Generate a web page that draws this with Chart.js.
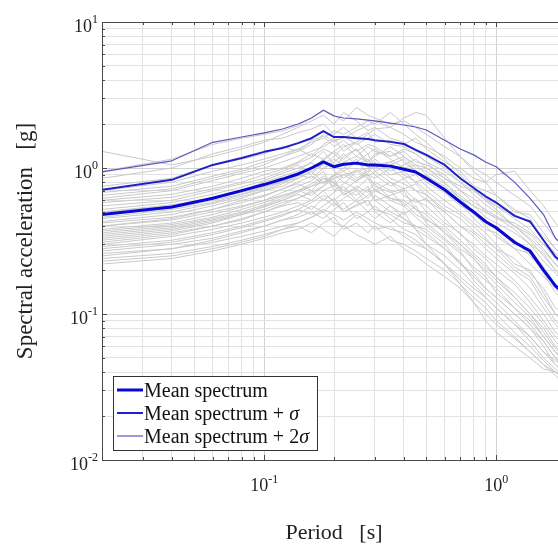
<!DOCTYPE html>
<html><head><meta charset="utf-8">
<script src="https://cdn.jsdelivr.net/npm/chart.js@4"></script>
<style>
html,body{margin:0;padding:0;background:#fff;overflow:hidden;}
#wrap{width:558px;height:547px;overflow:hidden;position:relative;}
canvas{display:block;}
</style></head>
<body><div id="wrap"><canvas id="c" width="600" height="547"></canvas></div>
<script>
// ---------- DATA ----------
const periods = [0.02,0.04,0.06,0.08,0.1,0.12,0.14,0.16,0.18,0.2,0.22,0.25,0.28,0.3,0.35,0.4,0.45,0.5,0.6,0.7,0.8,0.9,1.0,1.2,1.4,1.6,1.8,2.0];

const meanSpectrum   = [0.48,0.54,0.62,0.70,0.77,0.84,0.91,1.00,1.10,1.02,1.06,1.08,1.05,1.05,1.03,0.98,0.94,0.85,0.71,0.585,0.50,0.43,0.39,0.31,0.27,0.20,0.156,0.135];
const meanPlusSigma  = [0.71,0.83,1.05,1.17,1.29,1.37,1.48,1.60,1.79,1.63,1.63,1.60,1.58,1.55,1.51,1.46,1.33,1.23,1.05,0.85,0.73,0.64,0.58,0.47,0.43,0.32,0.246,0.217];
const meanPlus2Sigma = [0.94,1.12,1.50,1.63,1.74,1.85,2.00,2.20,2.49,2.27,2.20,2.17,2.13,2.10,2.03,1.97,1.91,1.82,1.55,1.35,1.23,1.10,1.02,0.80,0.62,0.48,0.33,0.283];

const recA = [1.30,1.05,1.20,1.35,1.50,1.70,1.90,2.10,2.30,2.00,2.40,2.10,1.80,1.90,1.60,1.50,1.30,1.20,1.00,0.80,0.70,0.62,0.55,0.45,0.38,0.30,0.24,0.20];
const recB = [0.95,1.15,1.45,1.60,1.70,1.80,1.95,2.20,2.50,2.30,2.10,2.60,2.30,2.20,2.00,2.10,1.90,1.70,1.40,1.20,1.00,0.90,0.80,0.65,0.55,0.42,0.33,0.28];
const recC = [0.85,1.00,1.25,1.40,1.55,1.60,1.75,1.85,2.00,1.70,1.90,1.60,1.75,1.50,1.55,1.45,1.60,1.35,1.10,0.95,0.75,0.70,0.65,0.50,0.48,0.36,0.28,0.25];
const recD = [0.75,0.85,1.05,1.15,1.25,1.40,1.30,1.55,1.65,1.40,1.55,1.30,1.45,1.40,1.20,1.30,1.10,1.05,0.90,0.70,0.62,0.50,0.46,0.38,0.30,0.26,0.20,0.17];
const recE = [0.65,0.72,0.85,0.95,1.05,1.20,1.35,1.20,1.45,1.60,1.30,1.50,1.25,1.35,1.15,1.00,1.05,0.90,0.72,0.60,0.48,0.42,0.40,0.30,0.28,0.21,0.16,0.14];
const recF = [0.60,0.66,0.75,0.85,0.95,1.00,1.10,1.25,1.15,1.30,1.45,1.20,1.10,1.25,1.30,1.10,0.95,0.80,0.68,0.55,0.50,0.40,0.34,0.28,0.22,0.18,0.15,0.12];
const recG = [0.55,0.60,0.70,0.78,0.85,0.95,1.05,0.90,1.10,1.00,1.20,1.35,1.05,1.15,0.95,1.05,1.15,1.00,0.80,0.62,0.55,0.46,0.42,0.36,0.30,0.23,0.19,0.16];
const recH = [0.50,0.55,0.62,0.70,0.80,0.88,0.95,1.10,1.30,1.05,0.95,1.10,1.25,1.00,1.10,0.90,0.80,0.85,0.70,0.58,0.45,0.38,0.36,0.28,0.26,0.19,0.14,0.12];
const recI = [0.46,0.52,0.58,0.66,0.72,0.80,0.90,0.85,1.00,1.15,1.05,0.85,0.95,1.10,0.90,0.95,0.80,0.70,0.55,0.48,0.40,0.33,0.28,0.24,0.19,0.15,0.11,0.10];
const recJ = [0.43,0.48,0.55,0.62,0.70,0.75,0.85,0.95,0.80,0.90,1.00,1.15,0.90,0.85,1.00,0.85,0.90,0.75,0.60,0.50,0.42,0.36,0.30,0.22,0.20,0.14,0.10,0.085];
const recK = [0.40,0.45,0.52,0.60,0.65,0.72,0.78,0.70,0.85,0.75,0.90,0.80,1.00,0.90,0.75,0.85,0.70,0.60,0.50,0.40,0.36,0.30,0.26,0.20,0.17,0.12,0.09,0.075];
const recL = [0.38,0.42,0.48,0.54,0.60,0.68,0.75,0.82,0.95,0.70,0.78,0.95,0.85,0.70,0.80,0.65,0.58,0.62,0.45,0.35,0.30,0.25,0.22,0.17,0.13,0.10,0.075,0.065];
const recM = [0.36,0.40,0.45,0.50,0.56,0.62,0.70,0.65,0.75,0.85,0.65,0.75,0.68,0.80,0.70,0.55,0.62,0.50,0.40,0.32,0.26,0.22,0.18,0.14,0.11,0.085,0.065,0.055];
const recN = [0.34,0.38,0.43,0.48,0.52,0.58,0.62,0.70,0.60,0.68,0.75,0.60,0.72,0.60,0.65,0.70,0.52,0.45,0.36,0.28,0.24,0.19,0.16,0.12,0.095,0.07,0.055,0.045];
const recO = [0.32,0.36,0.40,0.44,0.50,0.55,0.58,0.52,0.62,0.55,0.62,0.70,0.55,0.65,0.55,0.48,0.55,0.42,0.33,0.27,0.20,0.17,0.15,0.11,0.085,0.065,0.05,0.04];
const recP = [0.30,0.34,0.38,0.42,0.46,0.50,0.55,0.60,0.70,0.58,0.52,0.60,0.50,0.45,0.55,0.45,0.40,0.38,0.30,0.22,0.19,0.15,0.13,0.10,0.08,0.06,0.045,0.04];
const recQ = [0.29,0.32,0.36,0.40,0.44,0.48,0.52,0.48,0.55,0.62,0.50,0.55,0.60,0.50,0.42,0.50,0.38,0.34,0.28,0.23,0.17,0.14,0.12,0.09,0.07,0.055,0.045,0.038];
const recR = [0.27,0.30,0.33,0.37,0.40,0.44,0.46,0.50,0.45,0.52,0.58,0.45,0.50,0.55,0.45,0.38,0.35,0.30,0.25,0.20,0.16,0.13,0.11,0.085,0.065,0.05,0.042,0.036];
const recS = [0.26,0.28,0.31,0.34,0.37,0.40,0.42,0.46,0.50,0.42,0.40,0.48,0.42,0.38,0.40,0.34,0.30,0.28,0.22,0.17,0.14,0.12,0.10,0.075,0.06,0.048,0.04,0.035];
const recT = [0.24,0.26,0.29,0.32,0.35,0.38,0.40,0.36,0.42,0.46,0.38,0.42,0.36,0.40,0.32,0.30,0.27,0.24,0.20,0.16,0.13,0.11,0.09,0.07,0.055,0.045,0.038,0.033];
const recU = [0.22,0.24,0.27,0.30,0.33,0.36,0.38,0.42,0.38,0.34,0.40,0.35,0.32,0.30,0.34,0.28,0.25,0.22,0.18,0.15,0.12,0.10,0.085,0.068,0.055,0.045,0.04,0.036];
const recV = [0.50,0.56,0.62,0.68,0.75,0.80,0.85,0.95,1.05,1.20,1.40,1.50,1.70,1.85,1.90,1.70,1.50,1.40,1.20,1.00,0.85,0.80,0.90,0.95,0.70,0.55,0.42,0.36];
const recW = [0.40,0.44,0.50,0.55,0.60,0.65,0.70,0.75,0.80,0.85,0.90,0.95,1.00,1.05,1.10,1.20,1.05,1.00,0.85,0.75,0.70,0.60,0.55,0.48,0.42,0.34,0.28,0.24];
const recX = [0.70,0.80,0.95,1.05,1.15,1.25,1.35,1.50,1.60,1.80,1.70,1.90,2.10,2.00,2.40,2.00,1.70,1.50,1.15,0.90,0.72,0.60,0.52,0.40,0.32,0.25,0.20,0.16];
const recY = [0.62,0.70,0.82,0.92,1.00,1.10,1.20,1.30,1.40,1.55,1.60,1.80,1.95,2.10,1.90,2.20,2.40,2.30,1.60,1.20,0.95,0.80,0.65,0.52,0.45,0.32,0.26,0.22];
const recZ = [0.33,0.37,0.42,0.48,0.55,0.60,0.68,0.75,0.85,0.80,0.70,0.65,0.75,0.60,0.50,0.45,0.38,0.30,0.22,0.16,0.12,0.09,0.075,0.06,0.05,0.042,0.04,0.038];
const recAA = [0.58,0.63,0.72,0.80,0.90,0.98,1.08,1.18,1.35,1.25,1.10,1.20,1.40,1.30,1.20,1.35,1.25,1.10,0.85,0.70,0.58,0.52,0.47,0.40,0.33,0.27,0.22,0.18];
const recAB = [0.52,0.58,0.66,0.74,0.82,0.92,1.00,1.08,0.98,1.10,1.25,1.05,1.15,0.95,1.05,1.15,0.95,0.88,0.75,0.62,0.50,0.42,0.38,0.32,0.25,0.20,0.16,0.14];
const recAC = [0.45,0.50,0.57,0.64,0.70,0.78,0.88,0.98,1.15,0.95,0.85,0.98,0.88,0.95,0.80,0.72,0.78,0.65,0.50,0.40,0.34,0.28,0.24,0.19,0.15,0.11,0.085,0.07];
const recAD = [0.42,0.46,0.52,0.58,0.64,0.72,0.80,0.88,0.78,0.88,0.95,0.82,0.92,1.05,0.85,0.78,0.70,0.66,0.52,0.45,0.37,0.32,0.28,0.21,0.18,0.13,0.10,0.09];
const recAE = [0.37,0.41,0.46,0.52,0.58,0.64,0.70,0.78,0.88,0.78,0.70,0.82,0.90,0.75,0.68,0.72,0.60,0.55,0.42,0.36,0.28,0.24,0.20,0.16,0.12,0.09,0.07,0.06];
const recAF = [0.35,0.39,0.44,0.49,0.54,0.60,0.66,0.60,0.70,0.76,0.66,0.72,0.62,0.70,0.62,0.58,0.48,0.44,0.38,0.30,0.25,0.21,0.18,0.13,0.10,0.08,0.06,0.05];
const recAG = [0.31,0.35,0.40,0.45,0.50,0.56,0.62,0.68,0.75,0.90,0.80,0.72,0.85,0.78,0.62,0.60,0.52,0.48,0.36,0.30,0.24,0.20,0.17,0.13,0.10,0.075,0.058,0.05];
const recAH = [0.28,0.31,0.35,0.39,0.43,0.47,0.52,0.58,0.65,0.60,0.68,0.58,0.65,0.72,0.60,0.55,0.46,0.40,0.32,0.26,0.21,0.18,0.14,0.11,0.09,0.07,0.055,0.048];
const recAI = [0.25,0.28,0.32,0.36,0.40,0.44,0.48,0.55,0.50,0.58,0.50,0.56,0.60,0.52,0.48,0.42,0.40,0.36,0.28,0.22,0.18,0.15,0.13,0.10,0.08,0.065,0.05,0.045];
const recAJ = [0.23,0.25,0.28,0.31,0.34,0.38,0.42,0.46,0.52,0.48,0.44,0.50,0.45,0.42,0.38,0.36,0.32,0.28,0.22,0.18,0.15,0.13,0.11,0.085,0.07,0.055,0.048,0.042];
const recAK = [0.68,0.75,0.88,0.98,1.10,1.20,1.30,1.45,1.70,1.50,1.65,1.45,1.60,1.70,1.45,1.40,1.25,1.10,0.95,0.80,0.66,0.56,0.50,0.40,0.35,0.28,0.22,0.19];
const recAL = [0.48,0.53,0.60,0.66,0.74,0.82,0.90,1.00,1.12,1.30,1.15,1.35,1.10,1.20,1.40,1.20,1.00,0.95,0.78,0.65,0.55,0.50,0.45,0.42,0.36,0.30,0.26,0.22];
const records = [recA,recB,recC,recD,recE,recF,recG,recH,recI,recJ,recK,recL,recM,recN,recO,recP,recQ,recR,recS,recT,recU,recV,recW,recX,recY,recZ,
                 recAA,recAB,recAC,recAD,recAE,recAF,recAG,recAH,recAI,recAJ,recAK,recAL];

const xMajorValues = [0.1, 1];
const xMajorExps   = ['-1', '0'];
const yMajorValues = [0.01, 0.1, 1, 10];
const yMajorExps   = ['-2', '-1', '0', '1'];
const legendLabels = ['Mean spectrum', 'Mean spectrum + ', 'Mean spectrum + 2'];
const legendSuffix = ['', 'σ', 'σ'];

// grid tick positions (1..9 x 10^n)
function gridValues(min, max){
  const out = [];
  for (let e = Math.floor(Math.log10(min)); e <= Math.ceil(Math.log10(max)); e++){
    for (let m = 1; m <= 9; m++){
      const v = parseFloat((m*Math.pow(10,e)).toPrecision(6));
      if (v >= min - 1e-12 && v <= max + 1e-12) out.push(v);
    }
  }
  return out;
}
const X_MIN = 0.02, X_MAX = 2, Y_MIN = 0.01, Y_MAX = 10;
const xGrid = gridValues(X_MIN, X_MAX);
const yGrid = gridValues(Y_MIN, Y_MAX);

// ---------- STYLE ----------
const SERIF = "'Liberation Serif','Times New Roman',serif";
const COL_MEAN = '#0808d4', COL_S1 = '#2020c8', COL_S2 = '#5858c4', COL_REC = '#c9c9c9';
const isMajor = v => Math.abs(Math.log10(v) - Math.round(Math.log10(v))) < 1e-9;

const toXY = arr => periods.map((p,i)=>({x:p, y:arr[i]}));
const datasets = [
  {label:legendLabels[0], data:toXY(meanSpectrum),   borderColor:COL_MEAN, borderWidth:3,   order:0},
  {label:legendLabels[1], data:toXY(meanPlusSigma),  borderColor:COL_S1,   borderWidth:2,   order:1},
  {label:legendLabels[2], data:toXY(meanPlus2Sigma), borderColor:COL_S2,   borderWidth:1.2, order:2},
];
records.forEach((r,k)=>datasets.push({label:'record '+(k+1), data:toXY(r), borderColor:COL_REC, borderWidth:1, order:10+k}));
datasets.forEach(d=>{d.pointRadius=0; d.fill=false; d.tension=0; d.borderJoinStyle='round';});

const gridColor = c => (c.tick && isMajor(c.tick.value)) ? '#d2d2d2' : '#e2e2e2';

const decorPlugin = {
  id:'decor',
  afterDraw(chart){
    const {ctx, chartArea:a, scales:{x, y}} = chart;
    ctx.save();
    // frame (left, top, bottom)
    ctx.strokeStyle = '#4a4a4a'; ctx.lineWidth = 1;
    ctx.beginPath();
    ctx.moveTo(a.right+5, a.top+0.5); ctx.lineTo(a.left+0.5, a.top+0.5);
    ctx.lineTo(a.left+0.5, a.bottom+0.5); ctx.lineTo(a.right+5, a.bottom+0.5);
    ctx.stroke();
    // inner ticks
    ctx.beginPath();
    xGrid.forEach(v=>{
      const px = Math.round(x.getPixelForValue(v))+0.5;
      const L = isMajor(v) ? 5 : 3;
      ctx.moveTo(px, a.bottom); ctx.lineTo(px, a.bottom-L);
      ctx.moveTo(px, a.top); ctx.lineTo(px, a.top+L);
    });
    yGrid.forEach(v=>{
      const py = Math.round(y.getPixelForValue(v))+0.5;
      const L = isMajor(v) ? 5 : 3;
      ctx.moveTo(a.left, py); ctx.lineTo(a.left+L, py);
    });
    ctx.stroke();
    // tick labels with superscripts
    ctx.fillStyle = '#222';
    const baseFont = '18px ' + SERIF, expFont = '12px ' + SERIF;
    ctx.textBaseline = 'alphabetic';
    xMajorValues.forEach((v,i)=>{
      const px = x.getPixelForValue(v);
      ctx.font = baseFont; const wb = ctx.measureText('10').width;
      ctx.font = expFont;  const we = ctx.measureText(xMajorExps[i]).width;
      const start = px - (wb+we)/2;
      ctx.font = baseFont; ctx.textAlign = 'left'; ctx.fillText('10', start, a.bottom+31);
      ctx.font = expFont;  ctx.fillText(xMajorExps[i], start+wb, a.bottom+23);
    });
    yMajorValues.forEach((v,i)=>{
      const py = y.getPixelForValue(v);
      ctx.font = expFont;  const we = ctx.measureText(yMajorExps[i]).width;
      const right = a.left - 4;
      ctx.textAlign = 'left';
      ctx.font = baseFont; const wb = ctx.measureText('10').width;
      ctx.fillText('10', right - we - wb, py+10);
      ctx.font = expFont;  ctx.fillText(yMajorExps[i], right - we, py+1);
    });
    // legend box
    const bx = 113, by = 376, bw = 204, bh = 74;
    ctx.fillStyle = '#fff'; ctx.fillRect(bx, by, bw, bh);
    ctx.strokeStyle = '#333'; ctx.lineWidth = 1;
    ctx.strokeRect(bx+0.5, by+0.5, bw, bh);
    const cols = [COL_MEAN, COL_S1, COL_S2], widths = [3, 2, 1.2];
    legendLabels.forEach((lab,i)=>{
      const base = 397 + i*23;
      ctx.strokeStyle = cols[i]; ctx.lineWidth = widths[i];
      ctx.beginPath(); ctx.moveTo(117, base-7); ctx.lineTo(143, base-7); ctx.stroke();
      ctx.fillStyle = '#111'; ctx.textAlign = 'left';
      ctx.font = '20px ' + SERIF;
      ctx.fillText(lab, 144, base);
      if (legendSuffix[i]){
        const w = ctx.measureText(lab).width;
        ctx.font = 'italic 20px ' + SERIF;
        ctx.fillText(legendSuffix[i], 144 + w, base);
      }
    });
    ctx.restore();
  }
};

new Chart(document.getElementById('c'), {
  type:'line',
  data:{datasets},
  options:{
    responsive:false, animation:false, devicePixelRatio:1,
    layout:{padding:{left:0, top:22, right:34, bottom:0}},
    plugins:{legend:{display:false}, tooltip:{enabled:false}},
    scales:{
      x:{
        type:'logarithmic', min:X_MIN, max:X_MAX,
        afterBuildTicks: s => { s.ticks = xGrid.map(v=>({value:v, major:isMajor(v)})); },
        afterFit: s => { s.height = 87; },
        ticks:{display:false, autoSkip:false},
        grid:{color:gridColor, drawTicks:false, lineWidth:1},
        border:{display:true, color:'#4a4a4a', width:1},
        title:{display:true, text:'Period   [s]', color:'#222', font:{family:SERIF, size:22}, padding:{top:0, bottom:1}}
      },
      y:{
        type:'logarithmic', min:Y_MIN, max:Y_MAX,
        afterBuildTicks: s => { s.ticks = yGrid.map(v=>({value:v, major:isMajor(v)})); },
        afterFit: s => { s.width = 102; },
        ticks:{display:false, autoSkip:false},
        grid:{color:gridColor, drawTicks:false, lineWidth:1},
        border:{display:true, color:'#4a4a4a', width:1},
        title:{display:true, text:'Spectral acceleration   [g]', color:'#222', font:{family:SERIF, size:23}, padding:{top:12, bottom:0}}
      }
    }
  },
  plugins:[decorPlugin]
});
</script>
</body></html>
